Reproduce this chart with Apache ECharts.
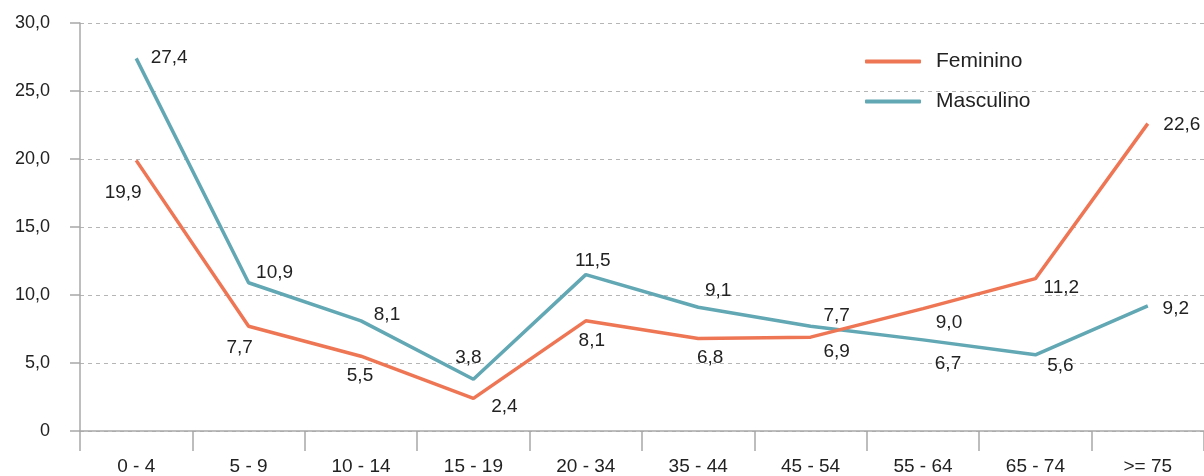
<!DOCTYPE html>
<html><head><meta charset="utf-8">
<script src="https://cdn.jsdelivr.net/npm/echarts@6/dist/echarts.min.js"></script>
<style>html,body{margin:0;padding:0;background:#fff}#c{width:1204px;height:476px}</style>
</head><body><div id="c"></div>
<script>
var categories = ['0 - 4','5 - 9','10 - 14','15 - 19','20 - 34','35 - 44','45 - 54','55 - 64','65 - 74','>= 75'];
var feminino = [19.9, 7.7, 5.5, 2.4, 8.1, 6.8, 6.9, 9.0, 11.2, 22.6];
var masculino = [27.4, 10.9, 8.1, 3.8, 11.5, 9.1, 7.7, 6.7, 5.6, 9.2];
var yTicks = [0, 5, 10, 15, 20, 25, 30];

// label offsets (style only)
var femOffsets = [[-13,32],[-9,21],[-1,20],[31,8],[6,20],[12,19],[26,15],[26,14],[26,9],[34,1]];
var mascOffsets = [[33,-1],[26,-10],[26,-6],[-5,-22],[7,-14],[20,-16],[26,-11],[25,24],[25,11],[28,3]];

var FEM_COLOR = '#ee7655', MASC_COLOR = '#62a7b4';
function fmt(v){ return v === 0 ? '0' : v.toFixed(1).replace('.', ','); }
function build(vals, offs){
  return vals.map(function(v,i){
    return {value: v, label: {offset: offs[i]}};
  });
}
var FONT = 'Liberation Sans';
var chart = echarts.init(document.getElementById('c'));
var lblStyle = {show: true, position: 'inside', align: 'center', verticalAlign: 'middle',
  color: '#222', fontSize: 19, fontFamily: FONT, formatter: function(p){ return fmt(p.value); }};
chart.setOption({
  animation: false,
  textStyle: {fontFamily: FONT},
  grid: {left: 80, right: 0, top: 23, bottom: 44, containLabel: false},
  legend: {
    orient: 'vertical', left: 860, top: 46, itemWidth: 56, itemHeight: 4, itemGap: 19,
    icon: 'roundRect',
    textStyle: {fontSize: 21, color: '#222', fontFamily: FONT, padding: [0,0,0,10]},
    data: [{name: 'Feminino', itemStyle: {color: FEM_COLOR}},
           {name: 'Masculino', itemStyle: {color: MASC_COLOR}}]
  },
  xAxis: {
    type: 'category', data: categories, boundaryGap: true,
    axisLine: {lineStyle: {color: '#a8a8a8', width: 1.5}},
    axisTick: {show: true, length: 20, lineStyle: {color: '#a8a8a8', width: 1.5}},
    axisLabel: {color: '#222', fontSize: 19, margin: 26, fontFamily: FONT}
  },
  yAxis: {
    type: 'value', min: yTicks[0], max: yTicks[yTicks.length-1], interval: 5,
    axisLine: {show: true, lineStyle: {color: '#a8a8a8', width: 1.5}},
    axisTick: {show: true, length: 10, lineStyle: {color: '#a8a8a8', width: 1.5}},
    axisLabel: {color: '#222', fontSize: 18, margin: 30, fontFamily: FONT, formatter: fmt},
    splitLine: {show: true, lineStyle: {color: '#b5b5b5', type: [4,4], width: 1}}
  },
  series: [
    {name: 'Feminino', type: 'line', data: build(feminino, femOffsets), color: FEM_COLOR,
     lineStyle: {width: 3.5, color: FEM_COLOR}, symbol: 'circle', symbolSize: 1,
     itemStyle: {color: 'rgba(0,0,0,0)'}, label: lblStyle, z: 3},
    {name: 'Masculino', type: 'line', data: build(masculino, mascOffsets), color: MASC_COLOR,
     lineStyle: {width: 3.5, color: MASC_COLOR}, symbol: 'circle', symbolSize: 1,
     itemStyle: {color: 'rgba(0,0,0,0)'}, label: lblStyle, z: 2}
  ]
});
</script></body></html>
